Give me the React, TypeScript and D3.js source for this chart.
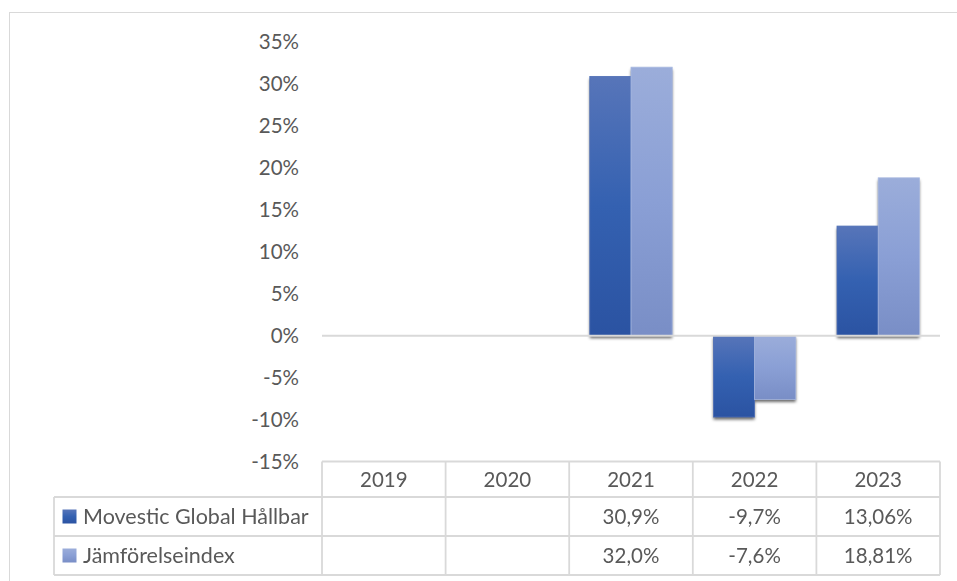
import React from "react";
import * as d3 from "d3";

const years = ["2019", "2020", "2021", "2022", "2023"];
const seriesNames = ["Movestic Global Hållbar", "Jämförelseindex"];
const movestic: (number | null)[] = [null, null, 30.9, -9.7, 13.06];
const index: (number | null)[] = [null, null, 32.0, -7.6, 18.81];
const movesticLabels = ["", "", "30,9%", "-9,7%", "13,06%"];
const indexLabels = ["", "", "32,0%", "-7,6%", "18,81%"];
const yTicks = [35, 30, 25, 20, 15, 10, 5, 0, -5, -10, -15];

const seriesValues = [movestic, index];
const seriesLabels = [movesticLabels, indexLabels];
const gradIds = ["gDark", "gLight"];
const strokes = ["#4f6fb6", "#a9b9e1"];

const W = 957;
const H = 581;
const FONT = "Lato, 'Liberation Sans', sans-serif";
const TEXT = "#595959";
const GRID = "#d9d9d9";

export default function App() {
  const x = d3.scaleBand<string>().domain(years).range([322, 940]).paddingInner(0).paddingOuter(0);
  const y = d3.scaleLinear().domain([-15, 35]).range([461.5, 42]);
  const xs = d3.scaleBand<number>().domain([0, 1]).range([0, x.bandwidth()]).paddingInner(0).paddingOuter(0.5);

  const tableLeft = 54;
  const rowLines = [y(-15), 497, 536, 575];
  const colEdges = years.map((yr) => x(yr) as number).concat([940]);

  const bars: { key: string; x: number; y0: number; y1: number; s: number }[] = [];
  years.forEach((yr, i) => {
    seriesValues.forEach((vals, s) => {
      const v = vals[i];
      if (v == null) return;
      const bx = (x(yr) as number) + (xs(s) as number);
      bars.push({ key: `${yr}-${s}`, x: bx, y0: Math.min(y(0), y(v)), y1: Math.max(y(0), y(v)), s });
    });
  });

  return (
    <svg width={W} height={H} style={{ position: "absolute", left: 0, top: 0, background: "#fff" }} fontFamily={FONT}>
      <defs>
        <linearGradient id="gDark" x1="0" y1="0" x2="0" y2="1">
          <stop offset="0" stopColor="#5775b9" />
          <stop offset="0.5" stopColor="#3461b1" />
          <stop offset="1" stopColor="#2b53a2" />
        </linearGradient>
        <linearGradient id="gLight" x1="0" y1="0" x2="0" y2="1">
          <stop offset="0" stopColor="#9badda" />
          <stop offset="0.5" stopColor="#8a9fd5" />
          <stop offset="1" stopColor="#798ec6" />
        </linearGradient>
        <filter id="shadow" x="-30%" y="-30%" width="160%" height="160%">
          <feGaussianBlur stdDeviation="1.8" />
        </filter>
      </defs>
      <rect x={0} y={0} width={W} height={H} fill="#fff" />
      {/* chart outer border */}
      <rect x={9.5} y={12.5} width={W + 20} height={H + 20} fill="none" stroke={GRID} strokeWidth={1} />

      {/* y tick labels */}
      {yTicks.map((t) => (
        <text key={t} x={299} y={y(t)} dy="0.35em" textAnchor="end" fontSize={20.5} fill={TEXT}>
          {`${t}%`}
        </text>
      ))}

      {/* shadows */}
      <g filter="url(#shadow)">
        {bars.map((b) => (
          <rect key={`sh-${b.key}`} x={b.x} y={b.y0 + 2.5} width={xs.bandwidth()} height={b.y1 - b.y0} fill="#000" opacity={0.6} />
        ))}
      </g>
      {/* bars */}
      {bars.map((b) => (
        <rect
          key={b.key}
          x={b.x}
          y={b.y0}
          width={xs.bandwidth()}
          height={b.y1 - b.y0}
          fill={`url(#${gradIds[b.s]})`}
          stroke={strokes[b.s]}
          strokeWidth={0.8}
        />
      ))}

      {/* zero axis line */}
      <line x1={322} x2={940} y1={y(0)} y2={y(0)} stroke={GRID} strokeWidth={2} />

      {/* data table */}
      <g stroke={GRID} strokeWidth={1.8} fill="none">
        <line x1={322} x2={940} y1={rowLines[0]} y2={rowLines[0]} />
        {rowLines.slice(1).map((ry, i) => (
          <line key={i} x1={tableLeft} x2={940} y1={ry} y2={ry} />
        ))}
        <line x1={tableLeft} x2={tableLeft} y1={rowLines[1]} y2={rowLines[3]} />
        {colEdges.map((cx, i) => (
          <line key={i} x1={cx} x2={cx} y1={rowLines[0]} y2={rowLines[3]} />
        ))}
      </g>
      {years.map((yr) => (
        <text key={yr} x={(x(yr) as number) + x.bandwidth() / 2} y={(rowLines[0] + rowLines[1]) / 2 + 1} dy="0.35em" textAnchor="middle" fontSize={20.5} fill={TEXT}>
          {yr}
        </text>
      ))}
      {seriesNames.map((name, s) => {
        const cy = (rowLines[s + 1] + rowLines[s + 2]) / 2;
        return (
          <g key={name}>
            <rect x={62.5} y={cy - 7} width={14} height={14} fill={`url(#${gradIds[s]})`} />
            <text x={83} y={cy} dy="0.35em" fontSize={21.5} fill={TEXT}>
              {name}
            </text>
            {years.map((yr, i) => (
              <text key={yr} x={(x(yr) as number) + x.bandwidth() / 2} y={cy} dy="0.35em" textAnchor="middle" fontSize={20.5} fill={TEXT}>
                {seriesLabels[s][i]}
              </text>
            ))}
          </g>
        );
      })}
    </svg>
  );
}
